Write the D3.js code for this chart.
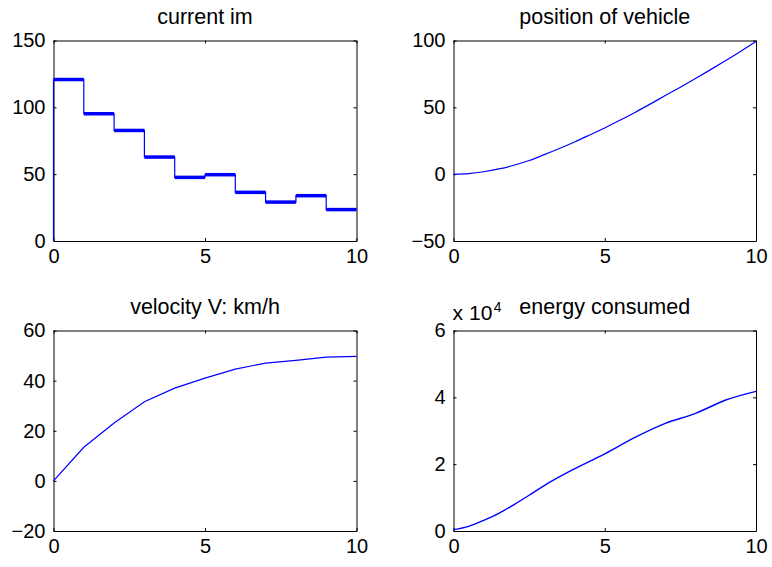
<!DOCTYPE html>
<html>
<head>
<meta charset="utf-8">
<script src="https://cdn.jsdelivr.net/npm/d3@7"></script>
<style>
  body { margin: 0; background: #fff; }
  svg { display: block; }
  text { font-family: "Liberation Sans", Arial, Helvetica, sans-serif; fill: #000; }
</style>
</head>
<body>
<svg id="fig" width="772" height="567"></svg>
<script>
// current im: step levels on each 1 s interval
var stepStart = [0, 1, 2, 3, 4, 5, 6, 7, 8, 9];
var stepLevel = [120.8, 95.2, 82.7, 62.8, 47.6, 49.6, 36.4, 29.1, 33.9, 23.5];

// position of vehicle
var posT = [0, 0.5, 1, 1.5, 2, 2.5, 3, 3.5, 4, 4.5, 5, 5.5, 6, 6.5, 7, 7.5, 8, 8.5, 9, 9.5, 10];
var posVal = [0, 0.45, 1.8, 3.9, 6.7, 10.2, 14.6, 19.2, 24.1, 29.3, 34.6, 40.3, 46.2, 52.4, 58.8, 65.1, 71.6, 78.2, 85.0, 92.0, 99.3];

// velocity V: km/h
var velT = [0, 1, 2, 3, 4, 5, 6, 7, 8, 9, 10];
var velVal = [0, 13.4, 23.1, 31.6, 37.0, 41.0, 44.6, 47.0, 48.1, 49.4, 49.7];

// energy consumed (x 10^4)
var enT = [0, 0.5, 1, 1.5, 2, 2.5, 3, 4, 5, 6, 7, 8, 9, 10];
var enVal = [0.04, 0.14, 0.32, 0.53, 0.79, 1.07, 1.36, 1.86, 2.31, 2.80, 3.22, 3.52, 3.92, 4.18];

var xTicks = [0, 5, 10];

var svg = d3.select("#fig");
var colX = [53.5, 453.5], colW = [303, 302.5];
var rowY = [40.5, 330.5], rowH = 200.5;

function makeAxes(col, row, yDomain, yTicks, title) {
    var g = svg.append("g");
    var x = d3.scaleLinear().domain([0, 10]).range([colX[col], colX[col] + colW[col]]);
    var y = d3.scaleLinear().domain(yDomain).range([rowY[row] + rowH, rowY[row]]);

    var fmt = d => d < 0 ? "\u2212" + Math.abs(d) : d;

    g.append("g").attr("transform", "translate(0," + y.range()[0] + ")")
        .call(d3.axisBottom(x).tickValues(xTicks).tickSizeInner(-3).tickSizeOuter(0).tickPadding(8));
    g.append("g").attr("transform", "translate(0," + y.range()[1] + ")")
        .call(d3.axisTop(x).tickValues(xTicks).tickSizeInner(-3).tickSizeOuter(0).tickFormat(""));
    g.append("g").attr("transform", "translate(" + x.range()[0] + ",0)")
        .call(d3.axisLeft(y).tickValues(yTicks).tickSizeInner(-3).tickSizeOuter(0).tickPadding(8).tickFormat(fmt));
    g.append("g").attr("transform", "translate(" + x.range()[1] + ",0)")
        .call(d3.axisRight(y).tickValues(yTicks).tickSizeInner(-3).tickSizeOuter(0).tickFormat(""));

    g.selectAll(".tick text").attr("font-size", 20).attr("font-family", null);
    g.selectAll(".domain, .tick line").attr("stroke", "#000").attr("stroke-width", 1);

    g.append("text")
        .attr("x", (x.range()[0] + x.range()[1]) / 2)
        .attr("y", y.range()[1] - 17)
        .attr("text-anchor", "middle")
        .attr("font-size", 21.5)
        .text(title);

    return { g: g, x: x, y: y };
}

// current im
var a1 = makeAxes(0, 0, [0, 150], [0, 50, 100, 150], "current im");
var stepPts = [[0, 0]].concat(stepStart.map((s, i) => [s, stepLevel[i]])).concat([[10, stepLevel[stepLevel.length - 1]]]);
a1.g.append("path")
    .attr("d", d3.line().x(d => a1.x(d[0])).y(d => a1.y(d[1])).curve(d3.curveStepAfter)(stepPts))
    .attr("fill", "none").attr("stroke", "#0000ff").attr("stroke-width", 1.2);
a1.g.selectAll("line.lvl").data(stepStart).enter().append("line")
    .attr("class", "lvl")
    .attr("x1", d => a1.x(d)).attr("x2", d => a1.x(d + 1))
    .attr("y1", (d, i) => a1.y(stepLevel[i])).attr("y2", (d, i) => a1.y(stepLevel[i]))
    .attr("stroke", "#0000ff").attr("stroke-width", 3.5);

// position
var a2 = makeAxes(1, 0, [-50, 100], [-50, 0, 50, 100], "position of vehicle");
a2.g.append("path")
    .attr("d", d3.line().x((d, i) => a2.x(posT[i])).y(d => a2.y(d)).curve(d3.curveMonotoneX)(posVal))
    .attr("fill", "none").attr("stroke", "#0000ff").attr("stroke-width", 1.2);

// velocity
var a3 = makeAxes(0, 1, [-20, 60], [-20, 0, 20, 40, 60], "velocity V: km/h");
a3.g.append("path")
    .attr("d", d3.line().x((d, i) => a3.x(velT[i])).y(d => a3.y(d))(velVal))
    .attr("fill", "none").attr("stroke", "#0000ff").attr("stroke-width", 1.2);

// energy
var a4 = makeAxes(1, 1, [0, 6], [0, 2, 4, 6], "energy consumed");
a4.g.append("path")
    .attr("d", d3.line().x((d, i) => a4.x(enT[i])).y(d => a4.y(d)).curve(d3.curveMonotoneX)(enVal))
    .attr("fill", "none").attr("stroke", "#0000ff").attr("stroke-width", 1.4);
var exp = a4.g.append("text")
    .attr("x", a4.x.range()[0] - 1)
    .attr("y", a4.y.range()[1] - 11)
    .attr("font-size", 21);
exp.append("tspan").text("x");
exp.append("tspan").attr("dx", 6).text("10");
exp.append("tspan").attr("font-size", 14).attr("dy", -8).attr("dx", 1.5).text("4");
</script>
</body>
</html>
